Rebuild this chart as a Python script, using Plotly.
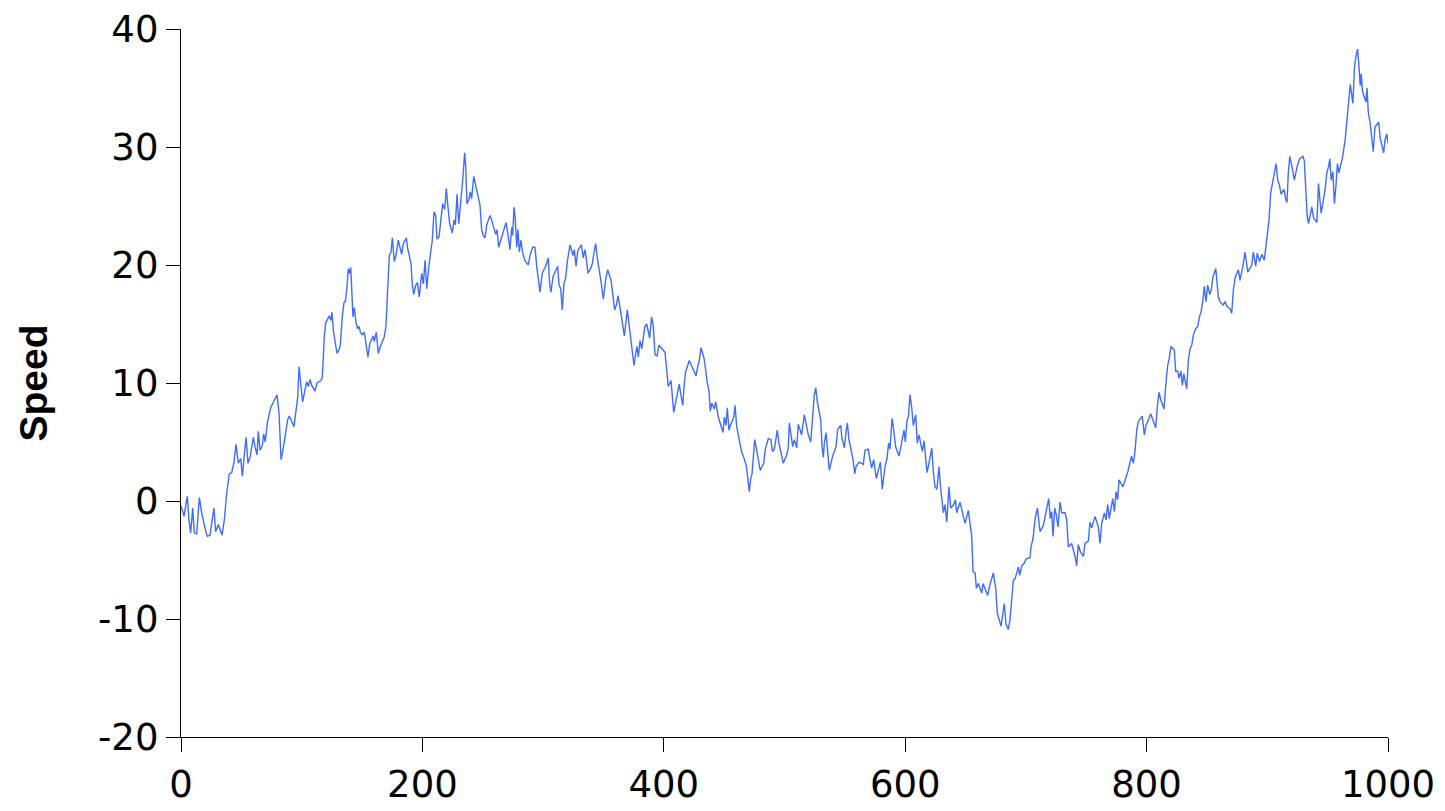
import plotly.graph_objects as go

# Values (step index vs speed)
steps = [
    0.0, 2.5, 5.2, 6.6, 8.0, 9.7, 11.0, 13.0, 15.2, 17.1, 19.9, 21.8, 24.0, 27.3, 28.7, 30.9, 34.0, 35.9, 37.9, 40.0,
    42.0, 43.9, 45.6, 47.5, 49.5, 50.8, 53.9, 55.5, 57.4, 59.9, 61.3, 63.0, 64.0, 65.5, 67.4, 68.5, 69.8, 71.5, 74.3, 77.3,
    79.5, 81.2, 82.9, 84.3, 86.2, 88.4, 89.7, 93.6,
    96.7, 97.8, 99.4, 100.8, 102.7, 104.1, 105.5, 106.9, 108.3, 111.0, 112.7, 116.0, 117.1, 118.7, 119.9, 121.5, 122.9,
    124.3, 125.1, 126.2, 127.6, 129.2, 130.9, 132.0, 133.6, 135.0, 136.1, 137.3, 138.6, 139.4, 140.6, 141.4, 142.5, 143.6,
    145.0, 146.4, 147.5, 148.6, 150.2, 151.9, 153.5, 154.9, 156.3, 159.3, 160.1, 161.8, 163.5, 165.1, 168.4, 169.8, 171.2,
    172.6, 174.0, 175.1, 176.7, 178.1, 180.0, 182.8, 184.2, 186.7, 187.8, 190.6, 191.6, 192.8, 194.5, 195.8, 197.4,
    199.4, 200.8, 202.2, 203.6, 205.5, 208.2, 209.6, 211.0, 212.1, 213.8, 215.2, 216.8, 218.5, 219.8, 221.0, 222.6, 224.8,
    226.2, 227.3, 228.7, 230.1, 231.4, 233.4, 235.0, 235.9, 236.9, 238.4, 239.7, 240.8, 242.5, 243.8, 245.2, 247.7, 249.1,
    250.4, 251.9, 253.3, 256.0, 257.4, 260.7, 261.8, 263.2, 264.5, 266.2, 269.3, 270.7, 272.6, 274.0, 274.8, 275.9, 277.0,
    278.2, 279.2, 280.3, 281.7, 283.1, 285.3, 287.8, 289.1, 291.4, 293.3, 294.7, 296.0, 297.4,
    299.3, 302.1, 304.3, 305.4, 306.5, 308.2, 312.1, 313.2, 314.6, 315.9, 317.3, 318.7, 320.1, 322.3, 324.8, 325.9, 327.3,
    328.7, 330.3, 331.7, 333.3, 334.7, 335.8, 337.2, 338.9, 340.8, 342.2, 343.6, 344.9, 346.6, 348.0, 349.9, 351.9, 353.5,
    356.3, 359.3, 360.7, 362.1, 363.7, 365.1, 367.3, 368.7, 369.8, 370.9, 372.6, 373.9, 375.3, 376.7, 377.8, 378.9, 380.3,
    381.7, 384.4, 385.8, 388.3, 389.9, 391.3, 392.7, 394.4, 396.0,
    398.2, 401.0, 402.4, 403.7, 406.0, 407.1, 408.2, 409.9, 412.8, 414.3, 415.7, 417.0, 418.2, 421.1, 423.9, 425.3, 426.7,
    428.1, 429.4, 430.8, 433.3, 434.7, 436.0, 437.5, 438.5, 439.7, 441.8, 443.0, 445.2, 449.1, 450.1, 451.5, 452.6, 454.0,
    455.1, 457.9, 459.0, 460.4, 463.1, 464.6, 465.9, 468.4, 470.8, 472.0, 473.1, 474.2, 475.3, 476.6, 478.3, 479.9, 481.4,
    482.8, 484.1, 486.6, 488.8, 489.9, 491.6, 494.0, 495.4,
    497.7, 499.0, 501.8, 503.1, 504.0, 505.4, 506.8, 508.1, 510.1, 511.4, 514.2, 516.4, 519.7, 521.7, 523.4, 524.7, 525.9,
    527.2, 530.0, 531.1, 532.2, 533.0, 534.4, 535.8, 537.1, 539.9, 541.3, 542.7, 544.1, 546.6, 547.6, 549.6, 551.0, 552.1,
    553.4, 556.8, 558.2, 559.2, 561.7, 565.3, 566.7, 569.4, 570.8, 572.2, 573.9, 574.9, 576.1, 577.7, 579.4, 581.0, 582.2,
    583.3, 584.9, 586.3, 587.4, 589.1, 590.5, 592.1,
    594.9, 596.3, 599.0, 600.1, 601.5, 602.6, 604.0, 605.4, 606.7, 608.7, 610.0, 611.4, 614.2, 615.6, 617.0, 618.1, 619.5,
    622.0, 623.3, 624.7, 626.3, 628.0, 629.1, 630.5, 631.6, 633.0, 634.4, 636.3, 637.7, 640.2, 641.6, 642.7, 645.4, 648.2,
    649.6, 652.3, 653.7, 655.1, 656.2, 657.9, 659.0, 660.6, 663.4, 664.5, 668.3, 669.7, 673.0, 675.0, 676.3, 679.4, 682.1,
    683.5, 685.4, 686.8, 688.2, 689.6,
    691.0, 692.4, 693.7, 694.9, 696.5, 698.4, 700.3, 703.4, 704.2, 705.9, 707.5, 709.5, 710.9, 711.7, 714.4, 717.5, 718.9,
    720.2, 721.4, 722.5, 723.9, 725.2, 726.6, 728.3, 729.7, 732.4, 733.8, 735.2, 737.9, 740.7, 742.1, 743.4, 745.1, 747.6,
    749.0, 751.7, 753.1, 754.5, 757.3, 760.0, 761.4, 762.8, 765.0, 766.4, 767.8, 769.1, 771.9, 773.3, 774.7, 776.1, 777.1,
    780.4, 782.1, 784.5, 787.5, 789.0,
    790.4, 791.8, 793.1, 796.4, 798.1, 799.5, 802.0, 803.4, 805.1, 807.5, 808.9, 810.3, 811.7, 814.4, 815.8, 817.5, 818.8,
    820.2, 823.0, 824.1, 825.8, 826.9, 828.5, 829.6, 830.8, 831.8, 833.2, 834.6, 836.0, 837.4, 838.8, 840.7, 842.4, 843.7,
    845.1, 846.5, 847.8, 849.2, 850.6, 852.3, 853.6, 854.8, 857.3, 858.3, 859.4, 860.8, 863.3, 865.0, 866.4, 869.1, 870.5,
    871.9, 873.3, 876.0, 877.4, 880.1, 881.5, 882.9, 883.8, 887.1, 888.4, 890.4, 891.7, 893.5, 895.5, 897.5,
    899.5, 901.4, 902.8, 905.6, 907.3, 908.6, 910.0, 911.4, 913.8, 915.2, 916.3, 917.4, 918.6, 921.3, 922.4, 924.6, 926.8,
    929.6, 930.7, 931.9, 933.0, 934.1, 936.9, 938.3, 941.1, 942.4, 944.6, 946.3, 947.9, 949.3, 950.7, 951.8, 952.9, 954.3,
    955.6, 956.8, 958.1, 959.3, 960.6, 962.3, 964.5, 967.3, 968.7, 970.9, 972.3, 973.7, 974.8, 975.9, 977.0, 977.8, 978.9,
    981.8, 982.6, 983.7, 985.1, 987.8, 989.2, 992.3, 993.6, 996.4, 997.5, 999.0, 1000.0,
]

speed = [
    -0.4, -1.3, 0.4, -1.6, -2.7, -0.6, -2.7, -2.8, 0.3, -1.0, -2.3, -3.0, -2.9, -0.6, -2.6, -2.0, -2.9, -1.6, 0.7, 2.3,
    2.4, 3.3, 4.8, 3.2, 3.6, 2.1, 5.4, 3.2, 3.8, 5.4, 4.6, 3.9, 5.9, 4.3, 4.7, 5.7, 5.0, 6.6, 7.9, 8.5,
    9.0, 7.5, 3.5, 4.2, 5.6, 6.9, 7.2, 6.3,
    8.8, 11.4, 9.7, 8.4, 9.4, 10.1, 9.7, 10.3, 9.8, 9.3, 10.0, 10.2, 10.5, 13.9, 15.1, 15.5, 15.7,
    15.3, 16.0, 14.5, 13.6, 12.5, 12.8, 13.2, 15.6, 16.8, 16.9, 17.9, 19.7, 19.3, 19.8, 17.9, 15.6, 16.4,
    15.1, 14.6, 14.8, 14.3, 14.1, 14.3, 13.2, 12.2, 13.3, 14.0, 13.5, 14.3, 12.5, 13.1, 13.9, 14.8, 17.9,
    20.8, 21.1, 22.3, 20.3, 20.8, 22.1, 20.9, 21.8, 22.3, 21.4, 20.1, 18.4, 17.5, 18.3, 18.5, 17.3,
    19.3, 18.4, 20.4, 18.0, 20.0, 22.1, 24.5, 24.2, 22.2, 22.4, 23.8, 25.2, 24.7, 26.5, 25.1, 23.5, 22.7,
    23.8, 23.4, 26.0, 23.5, 24.8, 27.2, 29.5, 28.3, 25.2, 25.5, 26.2, 25.6, 27.5, 26.9, 26.4, 25.1, 23.0,
    22.5, 22.3, 23.4, 24.2, 23.8, 22.6, 23.0, 21.5, 22.0, 22.5, 23.6, 22.7, 21.3, 23.2, 22.5, 24.9, 23.8,
    21.5, 23.0, 21.1, 22.1, 21.0, 20.3, 20.0, 20.8, 21.5, 21.5, 19.9, 18.6, 17.7,
    19.3, 19.9, 20.6, 18.4, 17.7, 19.0, 19.9, 18.3, 18.0, 16.2, 18.4, 18.9, 20.3, 21.7, 20.8, 21.3, 19.9,
    21.2, 21.5, 21.7, 20.6, 21.3, 20.5, 19.3, 19.6, 20.1, 21.1, 21.8, 20.6, 19.6, 18.6, 17.1, 18.8, 19.6,
    18.7, 16.2, 16.6, 17.4, 16.5, 15.5, 14.0, 15.1, 16.2, 15.2, 13.9, 12.7, 11.5, 12.5, 13.1, 12.2, 13.6,
    12.9, 14.8, 15.0, 13.8, 15.6, 14.8, 12.4, 12.3, 13.2,
    12.9, 12.6, 11.1, 9.7, 10.2, 8.8, 7.5, 8.4, 9.9, 8.9, 8.1, 10.0, 11.0, 11.9, 11.2, 10.9, 10.6,
    11.4, 11.9, 13.0, 12.1, 11.1, 10.0, 9.3, 7.6, 8.3, 7.8, 8.4, 7.1, 5.8, 7.1, 6.4, 7.9, 6.0,
    6.4, 7.1, 8.1, 6.3, 4.9, 4.1, 3.8, 3.0, 0.8, 1.9, 2.3, 4.0, 5.2, 4.5, 3.5, 2.6, 2.9,
    3.2, 4.4, 5.3, 5.2, 4.2, 4.4, 6.0, 4.9,
    3.9, 3.2, 3.9, 4.5, 6.6, 5.7, 4.6, 5.2, 4.5, 6.5, 5.6, 7.3, 5.6, 5.0, 7.4, 9.0, 9.6,
    8.4, 6.9, 4.6, 3.7, 4.9, 5.8, 4.2, 2.6, 3.8, 4.3, 4.6, 6.1, 6.4, 5.3, 4.5, 5.9, 6.6,
    5.2, 3.5, 2.3, 2.9, 3.3, 3.1, 4.3, 4.4, 3.5, 2.8, 3.5, 2.9, 1.9, 2.6, 3.3, 1.0, 2.2,
    2.9, 3.6, 4.9, 4.4, 7.0, 6.0, 4.6,
    3.8, 4.6, 6.0, 5.0, 6.8, 7.1, 9.0, 7.9, 6.4, 7.3, 4.9, 5.6, 4.2, 5.1, 3.5, 2.4, 3.1,
    4.5, 2.5, 1.2, 1.0, 2.9, 1.4, 0.2, -1.0, -0.3, -1.8, 1.2, -0.6, -0.3, 0.1, -1.0, -0.1, -1.3,
    -1.9, -0.8, -1.8, -3.0, -6.0, -6.1, -7.4, -7.0, -7.8, -7.0, -8.0, -7.3, -6.1, -7.4, -9.5, -10.6, -8.7,
    -10.4, -10.9, -10.1, -8.4, -6.7,
    -6.6, -6.0, -5.6, -6.3, -5.5, -5.3, -4.9, -4.8, -3.9, -3.2, -1.6, -0.6, -1.6, -2.6, -2.1, -0.3, 0.2,
    -1.5, -0.9, -3.0, -0.6, -1.2, -2.2, -0.1, -1.0, -1.0, -1.6, -3.9, -3.6, -4.7, -5.5, -3.7, -4.3, -4.7,
    -3.6, -3.4, -1.8, -2.3, -1.3, -2.2, -3.6, -1.9, -1.0, -1.6, -0.3, -1.5, 0.2, -0.9, 0.8, 0.1, 1.8,
    1.2, 1.8, 2.5, 3.8, 3.2,
    4.2, 6.0, 6.7, 7.2, 5.6, 6.4, 7.0, 7.4, 6.9, 6.2, 8.0, 9.2, 8.6, 7.8, 9.7, 11.5, 12.1,
    13.1, 12.8, 11.0, 11.0, 10.4, 11.0, 9.8, 10.8, 10.1, 9.5, 11.9, 12.9, 13.2, 14.1, 14.6, 14.8, 15.6,
    16.0, 16.9, 18.2, 16.9, 18.3, 17.5, 17.9, 18.9, 19.7, 18.6, 17.3, 16.9, 16.6, 16.9, 16.5, 16.3, 15.9,
    17.9, 18.9, 19.6, 18.7, 20.1, 21.1, 20.1, 19.4, 20.0, 21.1, 19.9, 21.0, 20.3, 20.9, 20.4,
    22.1, 23.8, 26.1, 27.9, 28.6, 27.2, 26.8, 26.0, 26.4, 25.6, 25.3, 27.8, 29.2, 27.9, 27.2, 28.3, 29.0,
    29.2, 28.8, 26.4, 24.2, 23.5, 24.9, 24.0, 23.6, 26.9, 24.4, 25.4, 26.4, 27.8, 28.3, 29.0, 27.2, 27.9,
    25.2, 26.6, 28.6, 27.8, 28.3, 29.1, 30.6, 34.1, 35.3, 33.7, 36.9, 37.8, 38.3, 36.9, 35.2, 36.2, 34.7,
    33.8, 35.0, 32.9, 32.1, 29.6, 31.7, 32.1, 30.7, 29.5, 30.6, 31.1, 30.3,
]

x_ticks = [0, 200, 400, 600, 800, 1000]
y_ticks = [-20, -10, 0, 10, 20, 30, 40]
y_title = "Speed"

fig = go.Figure()
fig.add_trace(go.Scatter(
    x=steps, y=speed, mode="lines",
    line=dict(color="#3F6CFF", width=1.4),
    showlegend=False,
))

fig.update_layout(
    width=1445, height=811,
    margin=dict(l=181, r=57, t=29, b=74, autoexpand=False),
    paper_bgcolor="white", plot_bgcolor="white",
    font=dict(family="DejaVu Sans", color="black"),
)
fig.update_xaxes(
    range=[0, 1000], tickvals=x_ticks, ticktext=[str(v) for v in x_ticks],
    showgrid=False, zeroline=False, showline=True, linecolor="black", linewidth=1.3,
    ticks="outside", ticklen=14, tickwidth=1.3, tickcolor="black",
    tickfont=dict(family="DejaVu Sans", size=37, color="black"),
)
fig.update_yaxes(
    range=[-20, 40], tickvals=y_ticks, ticktext=[str(v) for v in y_ticks],
    showgrid=False, zeroline=False, showline=True, linecolor="black", linewidth=1.3,
    ticks="outside", ticklen=14, tickwidth=1.3, tickcolor="black",
    tickfont=dict(family="DejaVu Sans", size=37, color="black"),
    title=dict(text="<b>" + y_title + "</b>", standoff=38,
               font=dict(family="Liberation Sans", size=39, color="black")),
)

# remove the default 8px page margin so the figure fills the window exactly
fig.write_html(
    "out.html",
    config={"displayModeBar": False},
    post_script="document.body.style.margin='0';document.body.style.overflow='hidden';",
)
